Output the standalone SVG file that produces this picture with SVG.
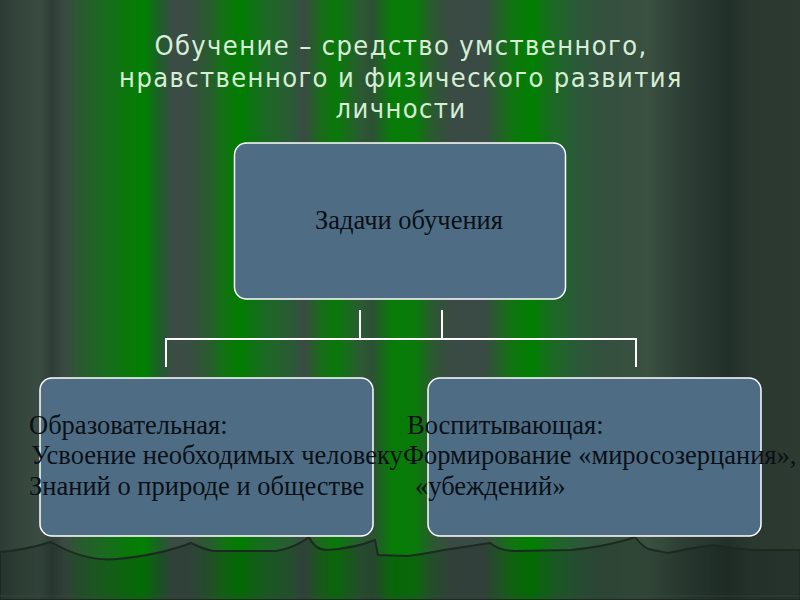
<svg xmlns="http://www.w3.org/2000/svg" width="800" height="600" viewBox="0 0 800 600">
<defs>
<linearGradient id="curtain" x1="0" y1="0" x2="800" y2="0" gradientUnits="userSpaceOnUse">
<stop offset="0" stop-color="#2c3c34"/>
<stop offset="0.02" stop-color="#33453b"/>
<stop offset="0.05" stop-color="#3a4c42"/>
<stop offset="0.065" stop-color="#2e3e36"/>
<stop offset="0.08" stop-color="#3a4a44"/>
<stop offset="0.1" stop-color="#2a5a30"/>
<stop offset="0.13" stop-color="#1a6a20"/>
<stop offset="0.16" stop-color="#0a780a"/>
<stop offset="0.18" stop-color="#028002"/>
<stop offset="0.2" stop-color="#1e5e2a"/>
<stop offset="0.215" stop-color="#3a4c44"/>
<stop offset="0.235" stop-color="#3a4c44"/>
<stop offset="0.26" stop-color="#2a5a30"/>
<stop offset="0.28" stop-color="#127212"/>
<stop offset="0.3" stop-color="#007d00"/>
<stop offset="0.33" stop-color="#1a6a22"/>
<stop offset="0.365" stop-color="#2a5a36"/>
<stop offset="0.38" stop-color="#3a4a44"/>
<stop offset="0.4" stop-color="#1a6a1a"/>
<stop offset="0.42" stop-color="#087a08"/>
<stop offset="0.45" stop-color="#2a5a32"/>
<stop offset="0.465" stop-color="#2e5036"/>
<stop offset="0.49" stop-color="#067c06"/>
<stop offset="0.52" stop-color="#0a7a0a"/>
<stop offset="0.54" stop-color="#2a5a30"/>
<stop offset="0.565" stop-color="#3a4a44"/>
<stop offset="0.605" stop-color="#3a4a44"/>
<stop offset="0.64" stop-color="#107410"/>
<stop offset="0.665" stop-color="#008000"/>
<stop offset="0.69" stop-color="#1a6a22"/>
<stop offset="0.72" stop-color="#2a5a38"/>
<stop offset="0.75" stop-color="#34503e"/>
<stop offset="0.81" stop-color="#3a5040"/>
<stop offset="0.85" stop-color="#2e4036"/>
<stop offset="0.91" stop-color="#22302a"/>
<stop offset="0.94" stop-color="#2a3830"/>
<stop offset="1" stop-color="#2c3a32"/>
</linearGradient>
</defs>
<style>
.title{font-family:"DejaVu Sans Condensed","DejaVu Sans",sans-serif;font-size:27px;letter-spacing:1.4px;fill:#d6eed6;text-anchor:middle}
.box{fill:#4e6d85;stroke:#ffffff;stroke-width:1.5}
.lbl{font-family:"Liberation Serif","Times New Roman",serif;font-size:26.5px;fill:#0a1016}
.conn{stroke:#ffffff;stroke-width:2;fill:none}
</style>
<rect x="0" y="0" width="800" height="600" fill="url(#curtain)"/>
<path d="M0,552 Q25,550 51,542 Q85,562 117,559 Q160,555 191,543 Q205,550 214,551 L276,551 Q295,548 309,537 Q315,550 327,550 Q355,548 375,540 L378,555 L408,556 Q430,553 444,550 Q470,546 490,543 Q500,551 515,551 L571,550 Q610,546 635,537 Q645,550 653,550 L668,553 Q690,548 714,545 Q740,550 760,550 L800,550 L800,600 L0,600 Z" fill="#101a14" fill-opacity="0.2" stroke="#1c2a22" stroke-width="2"/>
<line x1="0" y1="596" x2="800" y2="596" stroke="#3a4a40" stroke-width="1" opacity="0.6"/>
<g id="title">
<text class="title" x="401" y="55">Обучение – средство умственного,</text>
<text class="title" x="401" y="87">нравственного и физического развития</text>
<text class="title" x="401" y="118">личности</text>
</g>
<g id="connectors">
<line class="conn" x1="360" y1="310" x2="360" y2="339"/>
<line class="conn" x1="442" y1="310" x2="442" y2="339"/>
<polyline class="conn" points="166,367 166,339 636,339 636,367"/>
</g>
<g id="node-tasks">
<rect class="box" x="234.5" y="143" width="331" height="156" rx="12"/>
<text class="lbl" x="315" y="229">Задачи обучения</text>
</g>
<g id="node-educational">
<rect class="box" x="40" y="378" width="333" height="158" rx="12"/>
<text class="lbl" x="29" y="434">Образовательная:</text>
<text class="lbl" x="31" y="464">Усвоение необходимых человеку</text>
<text class="lbl" x="29" y="495">Знаний о природе и обществе</text>
</g>
<g id="node-upbringing">
<rect class="box" x="428" y="378" width="333" height="158" rx="12"/>
<text class="lbl" x="407" y="434">Воспитывающая:</text>
<text class="lbl" x="403" y="464">Формирование «миросозерцания»,</text>
<text class="lbl" x="415" y="495">«убеждений»</text>
</g>
</svg>
